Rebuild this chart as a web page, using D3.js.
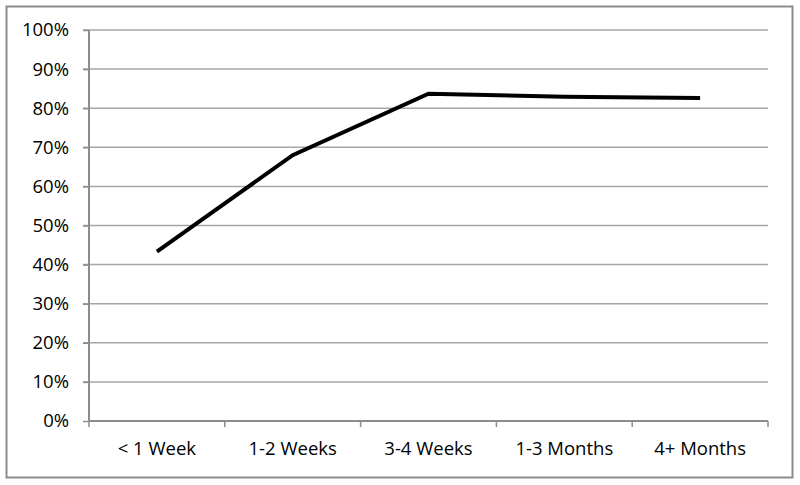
<!DOCTYPE html>
<html>
<head>
<meta charset="utf-8">
<script src="https://cdn.jsdelivr.net/npm/d3@7"></script>
<style>
  body { margin: 0; background: #fff; }
  text { font-family: "Open Sans", sans-serif; fill: #000; }
</style>
</head>
<body>
<div class="chart"></div>
<script>
// chart data
var categories = ["< 1 Week", "1-2 Weeks", "3-4 Weeks", "1-3 Months", "4+ Months"];
var values = [0.433, 0.68, 0.837, 0.829, 0.826];
var yTicks = [0, 0.1, 0.2, 0.3, 0.4, 0.5, 0.6, 0.7, 0.8, 0.9, 1.0];

var svgWidth = 800;
var svgHeight = 485;

var margin = { top: 30, right: 32, bottom: 64, left: 89 };
var width = svgWidth - margin.left - margin.right;
var height = svgHeight - margin.top - margin.bottom;

var svg = d3.select(".chart")
  .append("svg")
  .attr("width", svgWidth)
  .attr("height", svgHeight);

// outer frame
svg.append("rect")
  .attr("x", 6.5).attr("y", 6.5)
  .attr("width", 786).attr("height", 471)
  .attr("fill", "none")
  .attr("stroke", "#8c8c8c")
  .attr("stroke-width", 2);

var chartGroup = svg.append("g")
  .attr("transform", `translate(${margin.left}, ${margin.top})`);

var xScale = d3.scaleBand()
  .domain(categories)
  .range([0, width]);

var yScale = d3.scaleLinear()
  .domain([0, 1])
  .range([height, 0]);

// gridlines
chartGroup.append("g")
  .selectAll("line")
  .data(yTicks.filter(d => d > 0))
  .enter()
  .append("line")
  .attr("x1", -6)
  .attr("x2", width)
  .attr("y1", d => yScale(d))
  .attr("y2", d => yScale(d))
  .attr("stroke", "#a6a6a6")
  .attr("stroke-width", 1.5);

// y axis
var leftAxis = d3.axisLeft(yScale)
  .tickValues(yTicks)
  .tickFormat(d3.format(".0%"))
  .tickSize(6)
  .tickPadding(14);

var yAxisG = chartGroup.append("g").call(leftAxis);
yAxisG.select(".domain").attr("stroke", "#8c8c8c").attr("stroke-width", 2)
  .attr("d", `M0,${height}V0`);
yAxisG.selectAll(".tick line").attr("stroke", "#8c8c8c").attr("stroke-width", 1.5);
yAxisG.selectAll("text").style("font-size", "18.5px").style("font-family", "Open Sans");

// x axis with tick marks at band edges
var bottomAxis = d3.axisBottom(xScale).tickSize(0).tickPadding(21);
var xAxisG = chartGroup.append("g")
  .attr("transform", `translate(0, ${height})`)
  .call(bottomAxis);
xAxisG.select(".domain").attr("stroke", "#8c8c8c").attr("stroke-width", 2)
  .attr("d", `M0,0H${width}`);
xAxisG.selectAll("text").style("font-size", "18.5px").style("font-family", "Open Sans");

xAxisG.selectAll(".edge")
  .data(categories.concat([null]))
  .enter()
  .append("line")
  .attr("class", "edge")
  .attr("x1", (d, i) => i * xScale.bandwidth())
  .attr("x2", (d, i) => i * xScale.bandwidth())
  .attr("y1", 0)
  .attr("y2", 6)
  .attr("stroke", "#8c8c8c")
  .attr("stroke-width", 1.5);

// data line
var line = d3.line()
  .x((d, i) => xScale(categories[i]) + xScale.bandwidth() / 2)
  .y(d => yScale(d));

chartGroup.append("path")
  .datum(values)
  .attr("d", line)
  .attr("fill", "none")
  .attr("stroke", "#000")
  .attr("stroke-width", 4);
</script>
</body>
</html>
